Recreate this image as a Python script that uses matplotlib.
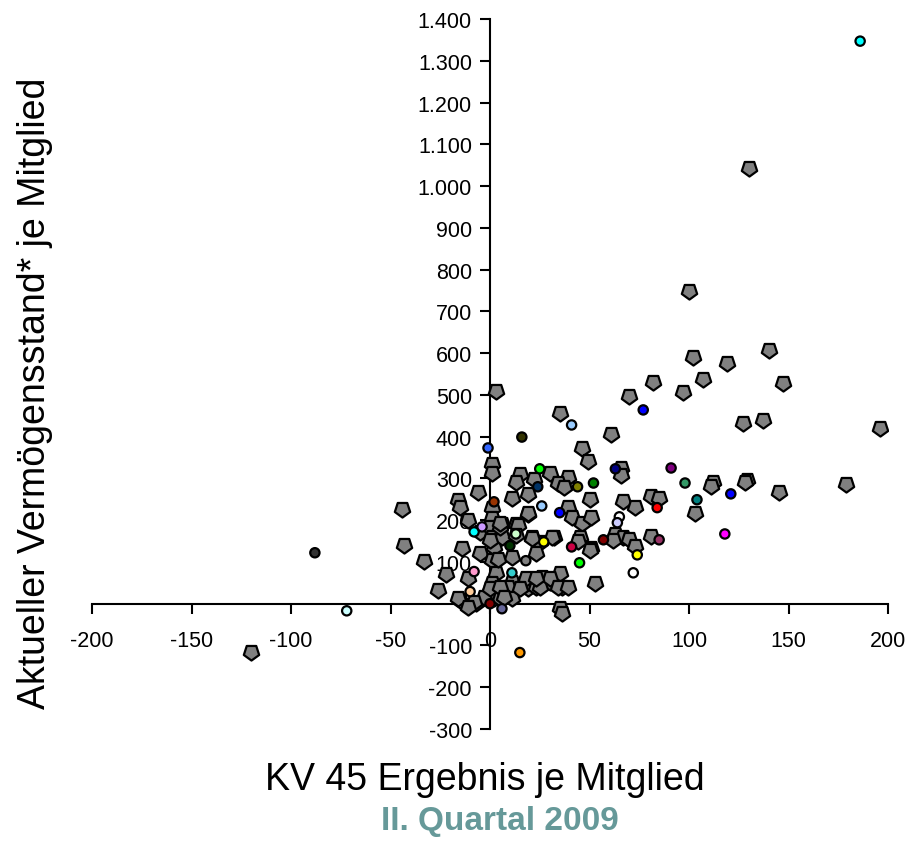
import matplotlib
matplotlib.use("Agg")
import matplotlib.pyplot as plt
from matplotlib.markers import MarkerStyle
from matplotlib.ticker import FuncFormatter, MultipleLocator

plt.rcParams["font.family"] = ["Liberation Sans", "DejaVu Sans"]
plt.rcParams["xtick.labelsize"] = 15.5
plt.rcParams["ytick.labelsize"] = 15.5

# graue Punkte (Kassen ohne Hervorhebung)
grau_x = [130, 100, 102, 119, 140, 107, 82, 70, 97, 127, 147, 137, 196, 61, 179, 145,
          3, 35, 46, 49, 66, 66, 112, 111, 129, 128, 39, 30, 34, 37, 50, 67, 73, 81, 85,
          103, 39, 41, 46, 51, 32, 45, 44, 51, 63, 67, 70, 73, 81, 62, 1, 1, 15, 13, 22,
          11, 19, -6, -44, -16, -15, -11, 1, 1, 6, 13, 19, -43, -33, -22, -26, -15, -11,
          -14, -5, -5, 0, 1, 2, 6, 1, 3, 1, 4, 2, -7, 11, 11, 9, 11, 17, 19, 21, 25, 23,
          31, 26, 30, 35, 36, 50, 53, 23, 35, 36, -1, 5, -3, 5, -120, -16, 5, 0, 4, 0, 5,
          7, -8, -11, 14, 19, 13, 21, 18, 15, 25, 30, 34, 39, 23]
grau_y = [1043, 749, 591, 576, 608, 538, 531, 498, 507, 433, 529, 441, 421, 407, 287, 268,
          510, 457, 373, 342, 325, 309, 292, 282, 297, 292, 304, 313, 289, 280, 251, 246,
          232, 258, 254, 218, 232, 208, 194, 208, 160, 160, 151, 134, 167, 160, 155, 139,
          163, 153, 335, 313, 311, 292, 299, 254, 263, 268, 227, 249, 232, 201, 230, 206,
          191, 191, 215, 141, 103, 72, 33, 10, 62, 134, 122, 172, 184, 160, 136, 160, 105,
          74, 50, 33, 14, 2, 112, 53, 41, 14, 50, 38, 160, 148, 122, 160, 65, 53, 74, 41,
          129, 50, 41, -10, -22, 22, 14, 17, 184, -115, 14, 194, 153, 108, 38, 41, 17, 5,
          -7, 189, 218, 165, 158, 62, 38, 41, 62, 41, 41, 62]

# farbige Punkte
farb_x = [186, 77, 41, 91, 63, 44, 52, 98, 104, 121, 35, 84, 65, 64, 57, 41, 85, 118,
          16, -1, 25, 24, 2, 26, 13, 10, 18, 27, 45, 11, -8, -10, -8, -4, 72, 74, 15,
          -72, -88, 0, 6]
farb_y = [1347, 464, 428, 325, 323, 280, 289, 289, 249, 263, 218, 230, 208, 194, 153,
          136, 153, 167, 399, 373, 323, 280, 244, 234, 167, 139, 103, 148, 98, 74, 172,
          29, 77, 184, 74, 117, -117, -17, 122, 0, -12]
farben = ["#00FFFF", "#0000FF", "#99CCFF", "#800080", "#000080", "#808000", "#008000",
          "#339966", "#008080", "#0000FF", "#0000FF", "#FF0000", "#FFFFFF", "#CCCCFF",
          "#800000", "#CC0044", "#993366", "#FF00FF", "#333300", "#3366FF", "#00FF00",
          "#003366", "#993300", "#99CCFF", "#CCFFCC", "#003300", "#808080", "#FFFF00",
          "#00FF00", "#33CCCC", "#00FFFF", "#FFCC99", "#FF99CC", "#CC99FF", "#FFFFFF",
          "#FFFF00", "#FF9900", "#CCFFFF", "#333333", "#800000", "#666699"]

fig = plt.figure(figsize=(9.13, 8.45), dpi=100)
ax = fig.add_axes([92 / 913, 1 - 730 / 845, 796 / 913, 710 / 845])

fuenfeck = MarkerStyle((5, 0, 180), joinstyle="round")
ax.scatter(grau_x, grau_y, s=135, marker=fuenfeck, facecolor="#808080",
           edgecolor="black", linewidth=1.6, zorder=3)
ax.scatter(farb_x, farb_y, s=45, marker="o", c=farben,
           edgecolor="black", linewidth=1.6, zorder=4)

ax.set_xlim(-200, 200)
ax.set_ylim(-300, 1400)
ax.spines["left"].set_position(("data", 0))
ax.spines["bottom"].set_position(("data", 0))
ax.spines["top"].set_visible(False)
ax.spines["right"].set_visible(False)
for s in ["left", "bottom"]:
    ax.spines[s].set_linewidth(1.5)
ax.xaxis.set_major_locator(MultipleLocator(50))
ax.yaxis.set_major_locator(MultipleLocator(100))
ax.yaxis.set_major_formatter(FuncFormatter(lambda v, p: f"{int(v):,}".replace(",", ".")))
ax.xaxis.set_major_formatter(FuncFormatter(lambda v, p: f"{int(v)}"))
ax.tick_params(axis="x", direction="out", length=7, width=1.5, pad=12)
ax.tick_params(axis="y", direction="out", length=7, width=1.5, pad=6)

fig.text(35 / 913, 1 - 393 / 845, "Aktueller Vermögensstand* je Mitglied",
         rotation=90, fontsize=27, ha="center", va="center")
fig.text(485 / 913, 1 - 780 / 845, "KV 45 Ergebnis je Mitglied",
         fontsize=27, ha="center", va="center")
fig.text(500 / 913, 1 - 822 / 845, "II. Quartal 2009", fontsize=24,
         fontweight="bold", color="#669999", ha="center", va="center")

fig.savefig("out.png", dpi=100)
